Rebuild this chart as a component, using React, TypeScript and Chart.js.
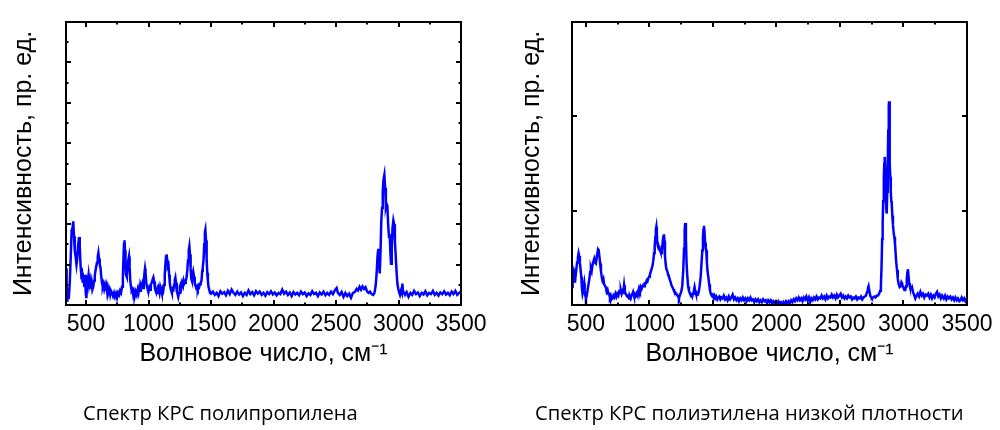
import { useEffect, useRef } from "react";
import { Chart, registerables } from "chart.js";

Chart.register(...registerables);

// wavenumber ticks, shared by both panels
const xMajorTicks = [500, 1000, 1500, 2000, 2500, 3000, 3500];
const xMinorTicks = [750, 1250, 1750, 2250, 2750, 3250];

// polypropylene panel
const ppYMajor = [1, 2, 3, 4, 5, 6];
const ppYMinor = [0.5, 1.5, 2.5, 3.5, 4.5, 5.5, 6.5];
const ppSpectrum: [number, number][] = [
  [340, 0.9], [345, 0.5], [350, 0.08], [356, 0.25], [362, 0.15], [370, 0.55], [378, 1.2], [385, 1.85],
  [392, 1.9], [398, 2.07], [404, 1.7], [410, 1.35], [417, 1.2], [424, 1.0], [430, 1.15], [436, 1.45],
  [444, 1.68], [450, 1.45], [456, 1.0], [462, 0.75], [468, 0.8], [474, 0.55], [480, 0.7], [486, 0.45],
  [492, 0.75], [498, 0.3], [503, 0.17], [509, 0.5], [515, 0.62], [520, 0.74], [526, 0.5], [532, 0.6],
  [538, 0.4], [545, 0.55], [551, 0.38], [558, 0.45], [564, 0.6], [570, 0.72], [576, 0.85], [582, 0.95],
  [588, 1.05], [594, 1.2], [599, 1.29], [604, 1.15], [610, 1.0], [616, 0.92], [622, 0.7], [628, 0.55],
  [634, 0.45], [640, 0.52], [646, 0.4], [652, 0.48], [658, 0.35], [664, 0.45], [670, 0.3], [676, 0.42],
  [682, 0.32], [688, 0.38], [694, 0.26], [700, 0.35], [708, 0.3], [716, 0.22], [724, 0.3], [732, 0.2],
  [740, 0.28], [748, 0.18], [756, 0.3], [764, 0.25], [772, 0.35], [780, 0.3], [788, 0.45], [795, 0.7],
  [800, 1.2], [804, 1.5], [808, 1.6], [812, 1.35], [816, 0.95], [820, 0.75], [826, 0.7], [832, 0.9],
  [838, 1.1], [844, 1.2], [849, 0.95], [854, 0.6], [860, 0.45], [866, 0.35], [872, 0.38], [878, 0.25],
  [884, 0.32], [890, 0.22], [898, 0.33], [906, 0.25], [914, 0.38], [920, 0.3], [926, 0.42], [932, 0.35],
  [938, 0.5], [944, 0.45], [950, 0.52], [956, 0.42], [962, 0.6], [968, 0.8], [972, 0.9], [976, 0.8],
  [982, 0.55], [988, 0.45], [994, 0.38], [1000, 0.33], [1006, 0.42], [1012, 0.38], [1018, 0.5], [1026, 0.55],
  [1032, 0.62], [1039, 0.68], [1045, 0.58], [1051, 0.42], [1057, 0.35], [1063, 0.3], [1069, 0.38], [1075, 0.28],
  [1081, 0.4], [1088, 0.3], [1094, 0.45], [1100, 0.38], [1106, 0.3], [1112, 0.4], [1118, 0.35], [1124, 0.5],
  [1130, 0.75], [1135, 1.0], [1140, 1.2], [1145, 1.25], [1150, 1.1], [1155, 0.95], [1160, 0.98], [1165, 0.75],
  [1170, 0.55], [1176, 0.42], [1182, 0.35], [1187, 0.3], [1193, 0.4], [1199, 0.38], [1205, 0.5], [1210, 0.62],
  [1215, 0.68], [1220, 0.55], [1226, 0.35], [1232, 0.28], [1238, 0.2], [1244, 0.3], [1250, 0.45], [1256, 0.5],
  [1262, 0.42], [1268, 0.55], [1274, 0.5], [1280, 0.6], [1286, 0.52], [1292, 0.55], [1298, 0.6], [1304, 0.68],
  [1310, 0.85], [1316, 1.1], [1322, 1.35], [1327, 1.45], [1332, 1.25], [1337, 0.9], [1342, 0.65], [1347, 0.6],
  [1352, 0.72], [1358, 0.82], [1364, 0.7], [1370, 0.55], [1376, 0.48], [1382, 0.42], [1388, 0.45], [1394, 0.4],
  [1400, 0.48], [1406, 0.45], [1412, 0.52], [1418, 0.55], [1424, 0.6], [1430, 0.85], [1434, 0.94], [1440, 1.1],
  [1446, 1.5], [1451, 1.8], [1455, 1.86], [1460, 1.6], [1465, 1.15], [1470, 0.8], [1475, 0.6], [1480, 0.45],
  [1486, 0.38], [1492, 0.3], [1500, 0.28], [1515, 0.33], [1530, 0.25], [1545, 0.3], [1560, 0.22], [1575, 0.34],
  [1590, 0.28], [1605, 0.32], [1620, 0.24], [1635, 0.35], [1650, 0.27], [1665, 0.38], [1680, 0.3], [1695, 0.25],
  [1710, 0.33], [1725, 0.26], [1740, 0.31], [1755, 0.22], [1770, 0.3], [1785, 0.25], [1800, 0.36], [1815, 0.27],
  [1830, 0.32], [1845, 0.24], [1860, 0.34], [1875, 0.28], [1890, 0.33], [1905, 0.25], [1920, 0.3], [1935, 0.23],
  [1950, 0.32], [1965, 0.27], [1980, 0.34], [1995, 0.26], [2010, 0.31], [2025, 0.24], [2040, 0.3], [2055, 0.27],
  [2070, 0.38], [2085, 0.28], [2100, 0.33], [2115, 0.25], [2130, 0.31], [2145, 0.22], [2160, 0.32], [2175, 0.26],
  [2190, 0.3], [2205, 0.24], [2220, 0.33], [2235, 0.27], [2250, 0.31], [2265, 0.22], [2280, 0.29], [2295, 0.25],
  [2310, 0.34], [2325, 0.27], [2340, 0.3], [2355, 0.22], [2370, 0.31], [2385, 0.26], [2400, 0.33], [2415, 0.24],
  [2430, 0.3], [2445, 0.25], [2460, 0.33], [2475, 0.27], [2490, 0.36], [2505, 0.42], [2515, 0.3], [2530, 0.25],
  [2545, 0.32], [2560, 0.2], [2575, 0.3], [2590, 0.22], [2605, 0.28], [2620, 0.18], [2635, 0.3], [2650, 0.32],
  [2665, 0.4], [2676, 0.36], [2688, 0.45], [2700, 0.38], [2712, 0.46], [2724, 0.4], [2736, 0.44], [2748, 0.34],
  [2760, 0.3], [2772, 0.33], [2784, 0.27], [2798, 0.25], [2808, 0.3], [2818, 0.5], [2825, 0.78], [2832, 1.2],
  [2838, 1.39], [2844, 1.05], [2850, 0.78], [2856, 1.3], [2862, 2.05], [2868, 2.4], [2874, 2.8], [2880, 3.1],
  [2887, 3.22], [2893, 2.9], [2899, 2.42], [2905, 2.5], [2911, 2.45], [2917, 2.0], [2924, 1.68], [2930, 1.75],
  [2935, 1.3], [2940, 1.02], [2946, 1.4], [2952, 1.9], [2959, 2.09], [2965, 2.0], [2971, 1.6], [2978, 1.19],
  [2985, 0.8], [2991, 0.53], [2998, 0.4], [3005, 0.32], [3012, 0.25], [3020, 0.35], [3026, 0.3], [3031, 0.53],
  [3036, 0.35], [3044, 0.3], [3052, 0.25], [3065, 0.32], [3080, 0.2], [3095, 0.3], [3110, 0.25], [3125, 0.35],
  [3140, 0.27], [3155, 0.31], [3170, 0.22], [3185, 0.3], [3200, 0.26], [3215, 0.34], [3230, 0.24], [3245, 0.3],
  [3260, 0.27], [3275, 0.35], [3290, 0.25], [3305, 0.3], [3320, 0.23], [3335, 0.31], [3350, 0.27], [3365, 0.34],
  [3380, 0.26], [3395, 0.3], [3410, 0.24], [3425, 0.33], [3440, 0.27], [3455, 0.35], [3470, 0.25], [3485, 0.3],
  [3500, 0.33],
];

// low-density polyethylene panel
const peYMajor = [1, 2];
const peYMinor: number[] = [];
const peSpectrum: [number, number][] = [
  [390, 0.19], [395, 0.28], [400, 0.32], [406, 0.25], [412, 0.33], [418, 0.3], [424, 0.38], [430, 0.45],
  [436, 0.5], [442, 0.55], [447, 0.52], [452, 0.45], [458, 0.37], [463, 0.3], [468, 0.18], [473, 0.12],
  [478, 0.15], [482, 0.2], [486, 0.23], [490, 0.15], [495, 0.1], [500, 0.07], [506, 0.1], [513, 0.16],
  [520, 0.22], [527, 0.28], [533, 0.35], [539, 0.39], [545, 0.36], [551, 0.42], [558, 0.46], [565, 0.49],
  [571, 0.45], [578, 0.44], [584, 0.5], [590, 0.55], [595, 0.59], [600, 0.58], [605, 0.52], [612, 0.44],
  [618, 0.36], [624, 0.3], [630, 0.26], [637, 0.28], [643, 0.22], [650, 0.2], [656, 0.19], [663, 0.14],
  [670, 0.16], [676, 0.12], [682, 0.12], [689, 0.08], [695, 0.1], [702, 0.06], [708, 0.07], [716, 0.1],
  [724, 0.08], [732, 0.12], [740, 0.09], [747, 0.12], [755, 0.1], [762, 0.14], [768, 0.13], [774, 0.16],
  [781, 0.12], [788, 0.15], [794, 0.14], [800, 0.21], [806, 0.14], [813, 0.12], [820, 0.1], [826, 0.09],
  [833, 0.1], [840, 0.07], [846, 0.09], [852, 0.07], [858, 0.1], [865, 0.12], [871, 0.14], [878, 0.1],
  [885, 0.08], [892, 0.09], [898, 0.12], [905, 0.1], [912, 0.15], [918, 0.18], [925, 0.15], [932, 0.19],
  [938, 0.17], [944, 0.19], [951, 0.21], [958, 0.2], [964, 0.23], [971, 0.23], [978, 0.26], [984, 0.25],
  [990, 0.28], [997, 0.3], [1003, 0.32], [1010, 0.35], [1016, 0.38], [1023, 0.41], [1030, 0.47], [1036, 0.55],
  [1041, 0.62], [1046, 0.72], [1050, 0.8], [1054, 0.83], [1058, 0.75], [1062, 0.66], [1067, 0.62], [1072, 0.6],
  [1078, 0.61], [1083, 0.58], [1088, 0.56], [1093, 0.55], [1098, 0.58], [1103, 0.65], [1108, 0.72], [1114, 0.75],
  [1118, 0.68], [1122, 0.52], [1127, 0.44], [1133, 0.38], [1140, 0.36], [1147, 0.32], [1153, 0.3], [1160, 0.27],
  [1167, 0.24], [1173, 0.21], [1180, 0.19], [1187, 0.17], [1193, 0.15], [1200, 0.14], [1206, 0.12], [1213, 0.12],
  [1220, 0.1], [1226, 0.09], [1232, 0.07], [1238, 0.1], [1244, 0.12], [1250, 0.14], [1258, 0.2], [1266, 0.37],
  [1272, 0.6], [1277, 0.8], [1282, 0.87], [1287, 0.7], [1292, 0.45], [1298, 0.3], [1304, 0.2], [1311, 0.15],
  [1319, 0.12], [1326, 0.1], [1332, 0.11], [1337, 0.09], [1343, 0.12], [1349, 0.15], [1355, 0.19], [1360, 0.15],
  [1366, 0.12], [1371, 0.1], [1376, 0.11], [1382, 0.12], [1388, 0.14], [1395, 0.2], [1403, 0.3], [1410, 0.45],
  [1416, 0.58], [1421, 0.72], [1425, 0.8], [1429, 0.84], [1433, 0.78], [1438, 0.66], [1443, 0.6], [1447, 0.58],
  [1452, 0.45], [1457, 0.36], [1463, 0.3], [1470, 0.22], [1476, 0.16], [1482, 0.12], [1490, 0.1], [1497, 0.11],
  [1504, 0.08], [1511, 0.1], [1518, 0.07], [1526, 0.09], [1534, 0.06], [1542, 0.08], [1550, 0.09], [1558, 0.06],
  [1566, 0.08], [1575, 0.07], [1585, 0.1], [1595, 0.06], [1605, 0.08], [1615, 0.05], [1625, 0.09], [1635, 0.06],
  [1645, 0.08], [1655, 0.11], [1665, 0.06], [1675, 0.08], [1685, 0.05], [1695, 0.07], [1705, 0.04], [1715, 0.07],
  [1725, 0.05], [1735, 0.08], [1745, 0.05], [1755, 0.07], [1765, 0.04], [1775, 0.07], [1785, 0.05], [1795, 0.08],
  [1805, 0.05], [1815, 0.06], [1825, 0.03], [1835, 0.06], [1845, 0.04], [1855, 0.06], [1865, 0.03], [1875, 0.05],
  [1885, 0.03], [1895, 0.06], [1905, 0.04], [1915, 0.05], [1925, 0.02], [1935, 0.05], [1945, 0.03], [1955, 0.05],
  [1965, 0.02], [1975, 0.04], [1985, 0.02], [1995, 0.04], [2005, 0.01], [2015, 0.04], [2025, 0.02], [2035, 0.03],
  [2045, 0.0], [2055, 0.03], [2065, 0.01], [2075, 0.04], [2085, 0.02], [2095, 0.04], [2105, 0.02], [2115, 0.05],
  [2125, 0.03], [2135, 0.06], [2145, 0.04], [2155, 0.07], [2165, 0.05], [2175, 0.08], [2185, 0.05], [2195, 0.07],
  [2205, 0.04], [2215, 0.08], [2225, 0.06], [2235, 0.09], [2245, 0.05], [2255, 0.08], [2265, 0.03], [2275, 0.07],
  [2285, 0.05], [2295, 0.08], [2305, 0.06], [2315, 0.09], [2325, 0.06], [2335, 0.08], [2345, 0.07], [2355, 0.1],
  [2365, 0.07], [2375, 0.09], [2385, 0.06], [2395, 0.1], [2405, 0.07], [2415, 0.09], [2425, 0.08], [2435, 0.11],
  [2445, 0.08], [2455, 0.1], [2465, 0.07], [2475, 0.11], [2485, 0.08], [2495, 0.1], [2505, 0.12], [2515, 0.08],
  [2525, 0.1], [2535, 0.07], [2545, 0.09], [2555, 0.07], [2565, 0.1], [2575, 0.08], [2585, 0.09], [2595, 0.06],
  [2605, 0.08], [2615, 0.07], [2625, 0.09], [2635, 0.06], [2645, 0.08], [2655, 0.07], [2665, 0.09], [2675, 0.06],
  [2685, 0.08], [2695, 0.09], [2705, 0.1], [2713, 0.14], [2720, 0.18], [2725, 0.2], [2731, 0.15], [2738, 0.1],
  [2745, 0.08], [2751, 0.07], [2760, 0.08], [2770, 0.09], [2780, 0.08], [2790, 0.1], [2800, 0.1], [2808, 0.12],
  [2816, 0.15], [2822, 0.2], [2827, 0.4], [2832, 0.7], [2836, 0.86], [2840, 1.1], [2845, 1.35], [2849, 1.5],
  [2852, 1.57], [2856, 1.45], [2860, 1.2], [2864, 1.02], [2868, 0.97], [2872, 1.2], [2876, 1.5], [2880, 1.85],
  [2884, 2.1], [2886, 2.16], [2890, 1.8], [2893, 1.5], [2896, 1.36], [2900, 1.2], [2904, 1.1], [2907, 1.08],
  [2912, 0.95], [2917, 0.85], [2923, 0.76], [2928, 0.72], [2933, 0.65], [2938, 0.55], [2943, 0.45], [2949, 0.37],
  [2955, 0.28], [2962, 0.22], [2970, 0.19], [2978, 0.2], [2984, 0.24], [2988, 0.23], [2994, 0.2], [3000, 0.18],
  [3007, 0.16], [3014, 0.16], [3020, 0.2], [3026, 0.28], [3031, 0.35], [3035, 0.38], [3040, 0.3], [3045, 0.23],
  [3050, 0.2], [3058, 0.17], [3067, 0.19], [3075, 0.14], [3085, 0.1], [3093, 0.07], [3102, 0.1], [3112, 0.12],
  [3122, 0.09], [3133, 0.14], [3143, 0.1], [3153, 0.12], [3163, 0.08], [3173, 0.11], [3185, 0.1], [3195, 0.12],
  [3205, 0.08], [3215, 0.11], [3225, 0.07], [3235, 0.1], [3245, 0.08], [3255, 0.12], [3264, 0.14], [3274, 0.09],
  [3284, 0.11], [3294, 0.07], [3304, 0.1], [3317, 0.07], [3327, 0.1], [3337, 0.06], [3347, 0.09], [3357, 0.07],
  [3369, 0.09], [3379, 0.06], [3389, 0.08], [3399, 0.05], [3409, 0.08], [3419, 0.05], [3429, 0.07], [3440, 0.04],
  [3448, 0.05], [3458, 0.08], [3468, 0.05], [3478, 0.07], [3488, 0.04], [3500, 0.07],
];

const FONT = "'Liberation Sans', Arial, sans-serif";

// frame around the plot with inward ticks on all four sides
const framePlugin = {
  id: "frame",
  afterDatasetsDraw(chart: any, _args: any, opts: any) {
    const { ctx, chartArea: a } = chart;
    const xs = chart.scales.x;
    const ys = chart.scales.y;
    ctx.save();
    ctx.strokeStyle = "#000";
    ctx.lineWidth = 2;
    const tick = (vals: number[], len: number) => {
      vals.forEach((v) => {
        const px = Math.round(xs.getPixelForValue(v));
        ctx.beginPath();
        ctx.moveTo(px, a.bottom);
        ctx.lineTo(px, a.bottom - len);
        ctx.moveTo(px, a.top);
        ctx.lineTo(px, a.top + len);
        ctx.stroke();
      });
    };
    const ytick = (vals: number[], len: number) => {
      vals.forEach((v) => {
        const py = Math.round(ys.getPixelForValue(v));
        ctx.beginPath();
        ctx.moveTo(a.left, py);
        ctx.lineTo(a.left + len, py);
        ctx.moveTo(a.right, py);
        ctx.lineTo(a.right - len, py);
        ctx.stroke();
      });
    };
    tick(opts.xMajor, 5);
    tick(opts.xMinor, 2.5);
    ytick(opts.yMajor, 5);
    ytick(opts.yMinor, 2.5);
    ctx.strokeRect(a.left, a.top, a.right - a.left, a.bottom - a.top);
    ctx.restore();
  },
};

interface SpectrumProps {
  points: [number, number][];
  xMin: number;
  yMax: number;
  yMajor: number[];
  yMinor: number[];
  left: number;
  right: number;
  titlePad: number;
}

function SpectrumChart({ points, xMin, yMax, yMajor, yMinor, left, right, titlePad }: SpectrumProps) {
  const canvasRef = useRef<HTMLCanvasElement>(null);

  useEffect(() => {
    if (!canvasRef.current) return;

    const chart = new Chart(canvasRef.current, {
      type: "line",
      data: {
        datasets: [
          {
            data: points.map(([x, y]) => ({ x, y })),
            borderColor: "#0000ff",
            borderWidth: 2.5,
            pointRadius: 0,
            tension: 0,
          },
        ],
      },
      options: {
        animation: false,
        responsive: true,
        maintainAspectRatio: false,
        layout: { padding: { top: 22, right, bottom: 0, left: 0 } },
        plugins: {
          legend: { display: false },
          tooltip: { enabled: false },
          frame: { xMajor: xMajorTicks, xMinor: xMinorTicks, yMajor, yMinor },
        } as any,
        scales: {
          x: {
            type: "linear",
            min: xMin,
            max: 3500,
            grid: { display: false, drawTicks: false },
            border: { display: false },
            afterBuildTicks: (s: any) => {
              s.ticks = xMajorTicks.map((v) => ({ value: v }));
            },
            afterFit: (s: any) => {
              s.height = 125;
            },
            ticks: {
              autoSkip: false,
              maxRotation: 0,
              padding: 6,
              color: "#000",
              font: { family: FONT, size: 23 },
              callback: (v: any) => String(v),
            },
            title: {
              display: true,
              text: "Волновое число, см⁻¹",
              color: "#000",
              font: { family: FONT, size: 25 },
              padding: { top: 0, bottom: 61 },
            },
          },
          y: {
            min: 0,
            max: yMax,
            grid: { display: false, drawTicks: false },
            border: { display: false },
            ticks: { display: false },
            afterFit: (s: any) => {
              s.width = left;
            },
            title: {
              display: true,
              text: "Интенсивность, пр. ед.",
              color: "#000",
              font: { family: FONT, size: 25 },
              padding: { top: titlePad, bottom: 0 },
            },
          },
        },
      },
      plugins: [framePlugin],
    });

    return () => {
      chart.destroy();
    };
  }, [points, xMin, yMax, yMajor, yMinor, left, right, titlePad]);

  return (
    <div style={{ width: 500, height: 430, position: "relative" }}>
      <canvas ref={canvasRef} />
    </div>
  );
}

const captionStyle = {
  position: "absolute" as const,
  top: 398,
  fontFamily: "'Open Sans', 'Noto Sans', sans-serif",
  fontSize: 20.2,
  lineHeight: "28px",
  color: "#000",
  whiteSpace: "nowrap" as const,
};

export default function App() {
  return (
    <div style={{ position: "fixed", left: 0, top: 0, width: 1000, height: 430, background: "#fff" }}>
      <div style={{ position: "absolute", left: 0, top: 0 }}>
        <SpectrumChart points={ppSpectrum} xMin={340} yMax={7} yMajor={ppYMajor} yMinor={ppYMinor} left={66} right={39} titlePad={9} />
      </div>
      <div style={{ position: "absolute", left: 500, top: 0 }}>
        <SpectrumChart points={peSpectrum} xMin={390} yMax={3} yMajor={peYMajor} yMinor={peYMinor} left={72} right={33} titlePad={17} />
      </div>
      <div style={{ ...captionStyle, left: 83 }}>Спектр КРС полипропилена</div>
      <div style={{ ...captionStyle, left: 535 }}>Спектр КРС полиэтилена низкой плотности</div>
    </div>
  );
}
